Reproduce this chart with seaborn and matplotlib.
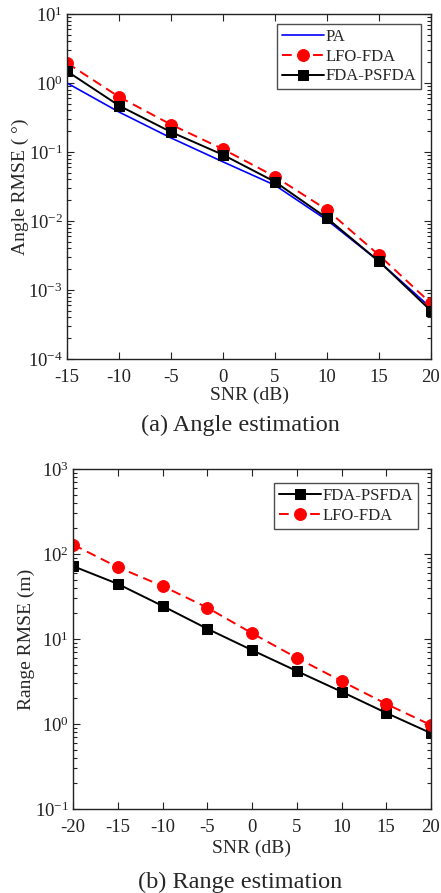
import numpy as np
import pandas as pd
import matplotlib
matplotlib.use("Agg")
import matplotlib.pyplot as plt
import seaborn as sns
from matplotlib.ticker import LogLocator, NullFormatter

# Angle estimation data
snr_angle = [-15, -10, -5, 0, 5, 10, 15, 20]
angle_pa = [1.0, 0.38, 0.16, 0.072, 0.033, 0.0103, 0.0026, 0.00055]
angle_lfo = [1.95, 0.63, 0.25, 0.11, 0.044, 0.0145, 0.0032, 0.00064]
angle_psfda = [1.48, 0.47, 0.195, 0.091, 0.037, 0.011, 0.0026, 0.0005]

# Range estimation data
snr_range = [-20, -15, -10, -5, 0, 5, 10, 15, 20]
range_psfda = [72, 44.5, 24.5, 13.2, 7.4, 4.2, 2.4, 1.35, 0.78]
range_lfo = [129, 70, 42, 23.4, 11.7, 6.0, 3.2, 1.72, 0.97]

sns.set_theme(style="ticks")
plt.rcParams["font.family"] = ["Liberation Serif", "DejaVu Serif"]
plt.rcParams["mathtext.fontset"] = "custom"
plt.rcParams["mathtext.rm"] = "Liberation Serif"
plt.rcParams["mathtext.it"] = "Liberation Serif:italic"

fig = plt.figure(figsize=(4.41, 8.93), dpi=100)
W, H = 441, 893
ax1 = fig.add_axes([67 / W, 1 - 359 / H, (431 - 67) / W, (359 - 14) / H])
ax2 = fig.add_axes([73 / W, 1 - 809 / H, (431 - 73) / W, (809 - 469) / H])

df_a = pd.DataFrame({
    "snr": snr_angle * 3,
    "rmse": angle_pa + angle_lfo + angle_psfda,
    "method": ["PA"] * 8 + ["LFO-FDA"] * 8 + ["FDA-PSFDA"] * 8,
})
df_r = pd.DataFrame({
    "snr": snr_range * 2,
    "rmse": range_psfda + range_lfo,
    "method": ["FDA-PSFDA"] * 9 + ["LFO-FDA"] * 9,
})

styles = {
    "PA": dict(color="#0000ff", ls="-", marker=None, ms=0, lw=1.2),
    "LFO-FDA": dict(color="#ff0000", ls=(0, (5, 3)), marker="o", ms=8.5, lw=1.4),
    "FDA-PSFDA": dict(color="black", ls="-", marker="s", ms=6.5, lw=1.4),
}

def draw(ax, df, order):
    for m in order:
        st = styles[m]
        sub = df[df["method"] == m]
        sns.lineplot(data=sub, x="snr", y="rmse", ax=ax, color=st["color"],
                     linestyle=st["ls"], linewidth=st["lw"],
                     marker=st["marker"], markersize=st["ms"],
                     markeredgecolor=st["color"], markerfacecolor=st["color"],
                     label=m, estimator=None, sort=False)
    ax.set_yscale("log")

draw(ax1, df_a, ["PA", "LFO-FDA", "FDA-PSFDA"])
draw(ax2, df_r, ["FDA-PSFDA", "LFO-FDA"])

ax1.set_xlim(-15, 20)
ax1.set_ylim(1e-4, 1e1)
ax1.set_xticks(snr_angle)
ax2.set_xlim(-20, 20)
ax2.set_ylim(1e-1, 1e3)
ax2.set_xticks(snr_range)

legend_anchor = {ax1: (0.9725, 0.971), ax2: (0.9637, 0.959)}

for ax in (ax1, ax2):
    ax.yaxis.set_major_locator(LogLocator(base=10, numticks=10))
    ax.yaxis.set_minor_locator(LogLocator(base=10, subs=np.arange(2, 10), numticks=20))
    ax.yaxis.set_minor_formatter(NullFormatter())
    ax.tick_params(which="both", direction="in", top=True, right=True,
                   labelsize=13.5, colors="#222222", width=0.8)
    ax.tick_params(which="major", length=5)
    ax.tick_params(which="minor", length=3)
    ax.tick_params(axis="x", pad=7)
    ax.tick_params(axis="y", pad=3)
    ax.set_xticklabels([str(v) for v in ax.get_xticks().astype(int)])
    for s in ax.spines.values():
        s.set_linewidth(1.0)
        s.set_color("#222222")
    leg = ax.legend(loc="upper right", fontsize=12, frameon=True, fancybox=False,
                    edgecolor="#222222", handlelength=2.5, borderpad=0.3,
                    labelspacing=0.22, handletextpad=0.1, borderaxespad=0,
                    bbox_to_anchor=legend_anchor[ax])
    leg.get_frame().set_linewidth(1.0)

ax1.set_xlabel("SNR (dB)", fontsize=14, labelpad=1)
ax2.set_xlabel("SNR (dB)", fontsize=14, labelpad=3)
ax1.set_ylabel("Angle RMSE ( °)", fontsize=14, labelpad=-1)
ax2.set_ylabel("Range RMSE (m)", fontsize=14, labelpad=0)

fig.text(240 / W, 1 - 425 / H, "(a) Angle estimation", ha="center", va="center", fontsize=17.5)
fig.text(240 / W, 1 - 882 / H, "(b) Range estimation", ha="center", va="center", fontsize=17.5)

fig.savefig("out.png", dpi=100, facecolor="white")
